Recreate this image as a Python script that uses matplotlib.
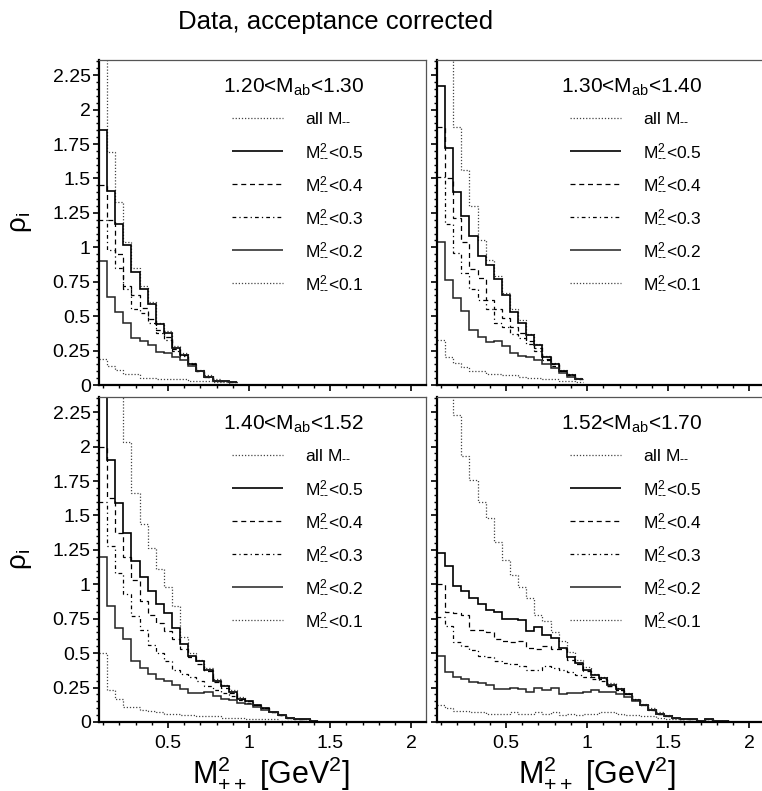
import numpy as np
import matplotlib
matplotlib.use('Agg')
import matplotlib.pyplot as plt
from matplotlib.ticker import MultipleLocator, FuncFormatter

plt.rcParams['font.family'] = ['Liberation Sans', 'DejaVu Sans']
plt.rcParams['mathtext.fontset'] = 'custom'
plt.rcParams['mathtext.rm'] = 'Liberation Sans'
plt.rcParams['mathtext.it'] = 'Liberation Sans'
plt.rcParams['mathtext.default'] = 'regular'

# histogram bins: 0.05 GeV^2 wide, starting at 0.075
bin_lo = 0.075
bin_w = 0.05

hy = '\u2010\u2010'
panel_titles = ['1.20<M$_{ab}$<1.30', '1.30<M$_{ab}$<1.40',
                '1.40<M$_{ab}$<1.52', '1.52<M$_{ab}$<1.70']
series_labels = ['all M$_{%s}$' % hy, 'M$_{%s}^{2}$<0.5' % hy, 'M$_{%s}^{2}$<0.4' % hy,
                 'M$_{%s}^{2}$<0.3' % hy, 'M$_{%s}^{2}$<0.2' % hy, 'M$_{%s}^{2}$<0.1' % hy]

# 1.20 < Mab < 1.30
p1_all  = [2.60, 1.69, 1.33, 1.04, 0.85, 0.72, 0.60, 0.45, 0.39, 0.28, 0.23, 0.16, 0.11, 0.07, 0.04, 0.03, 0.02]
p1_m05  = [1.85, 1.41, 1.17, 1.02, 0.82, 0.70, 0.59, 0.44, 0.38, 0.27, 0.22, 0.15, 0.10, 0.06, 0.03, 0.03, 0.02]
p1_m04  = [1.45, 1.20, 0.95, 0.72, 0.65, 0.56, 0.48, 0.40, 0.35, 0.26, 0.22, 0.15, 0.10, 0.06, 0.03, 0.03, 0.02]
p1_m03  = [1.20, 0.98, 0.85, 0.70, 0.55, 0.52, 0.45, 0.38, 0.33, 0.25, 0.21, 0.15, 0.10, 0.06, 0.03, 0.03, 0.02]
p1_m02  = [0.90, 0.64, 0.53, 0.45, 0.34, 0.32, 0.29, 0.24, 0.23, 0.20, 0.18, 0.14, 0.10, 0.06, 0.03, 0.03, 0.02]
p1_m01  = [0.19, 0.14, 0.11, 0.08, 0.08, 0.05, 0.05, 0.04, 0.04, 0.04, 0.04, 0.03, 0.03, 0.03, 0.02, 0.02, 0.01]

# 1.30 < Mab < 1.40
p2_all  = [2.80, 2.60, 1.87, 1.56, 1.30, 1.05, 0.91, 0.79, 0.67, 0.55, 0.47, 0.37, 0.30, 0.21, 0.16, 0.11, 0.08, 0.05]
p2_m05  = [2.17, 1.72, 1.40, 1.23, 1.08, 0.94, 0.87, 0.77, 0.65, 0.53, 0.45, 0.36, 0.29, 0.20, 0.15, 0.10, 0.07, 0.04]
p2_m04  = [1.87, 1.50, 1.21, 1.04, 0.84, 0.78, 0.62, 0.55, 0.49, 0.42, 0.38, 0.32, 0.27, 0.19, 0.15, 0.10, 0.07, 0.04]
p2_m03  = [1.51, 1.17, 0.96, 0.81, 0.70, 0.62, 0.55, 0.45, 0.42, 0.37, 0.34, 0.30, 0.25, 0.18, 0.14, 0.10, 0.07, 0.04]
p2_m02  = [1.04, 0.76, 0.63, 0.54, 0.40, 0.35, 0.31, 0.32, 0.28, 0.23, 0.21, 0.20, 0.18, 0.15, 0.12, 0.09, 0.06, 0.04]
p2_m01  = [0.33, 0.20, 0.16, 0.13, 0.10, 0.10, 0.08, 0.08, 0.07, 0.07, 0.06, 0.05, 0.05, 0.04, 0.04, 0.03, 0.03, 0.02]

# 1.40 < Mab < 1.52
p3_all  = [3.00, 2.80, 2.60, 2.03, 1.66, 1.44, 1.26, 1.11, 0.98, 0.84, 0.62, 0.50, 0.45, 0.39, 0.31, 0.27, 0.23, 0.18, 0.15, 0.12, 0.10, 0.07, 0.05, 0.03, 0.02, 0.02, 0.01]
p3_m05  = [2.60, 1.90, 1.59, 1.37, 1.17, 1.05, 0.95, 0.86, 0.79, 0.68, 0.57, 0.48, 0.44, 0.38, 0.30, 0.26, 0.22, 0.17, 0.15, 0.12, 0.10, 0.07, 0.05, 0.03, 0.02, 0.02, 0.01]
p3_m04  = [2.00, 1.63, 1.37, 1.20, 1.03, 0.88, 0.78, 0.72, 0.66, 0.60, 0.53, 0.47, 0.42, 0.37, 0.29, 0.25, 0.21, 0.17, 0.15, 0.12, 0.10, 0.07, 0.05, 0.03, 0.02, 0.02, 0.01]
p3_m03  = [1.60, 1.28, 1.08, 0.93, 0.77, 0.67, 0.56, 0.50, 0.44, 0.38, 0.35, 0.33, 0.30, 0.26, 0.23, 0.21, 0.19, 0.16, 0.14, 0.12, 0.10, 0.07, 0.05, 0.03, 0.02, 0.02, 0.01]
p3_m02  = [1.20, 0.84, 0.68, 0.60, 0.44, 0.39, 0.35, 0.31, 0.30, 0.27, 0.24, 0.21, 0.21, 0.22, 0.19, 0.17, 0.16, 0.14, 0.13, 0.11, 0.09, 0.07, 0.05, 0.03, 0.02, 0.02, 0.01]
p3_m01  = [0.50, 0.23, 0.17, 0.11, 0.11, 0.09, 0.08, 0.07, 0.06, 0.06, 0.05, 0.05, 0.04, 0.04, 0.04, 0.03, 0.03, 0.03, 0.02, 0.02, 0.02, 0.02, 0.01, 0.01, 0.01, 0.01, 0.01]

# 1.52 < Mab < 1.70
p4_all  = [3.00, 2.70, 2.23, 1.93, 1.76, 1.60, 1.48, 1.31, 1.18, 1.07, 0.98, 0.90, 0.78, 0.73, 0.65, 0.59, 0.51, 0.45, 0.40, 0.35, 0.33, 0.28, 0.25, 0.21, 0.17, 0.13, 0.10, 0.07, 0.05, 0.03, 0.02, 0.02, 0.01, 0.02, 0.01, 0.01]
p4_m05  = [1.23, 1.13, 0.99, 0.95, 0.90, 0.86, 0.81, 0.80, 0.75, 0.75, 0.74, 0.66, 0.69, 0.63, 0.61, 0.54, 0.47, 0.43, 0.38, 0.34, 0.32, 0.27, 0.24, 0.20, 0.16, 0.12, 0.09, 0.06, 0.04, 0.03, 0.02, 0.02, 0.01, 0.02, 0.01, 0.01]
p4_m04  = [1.00, 0.80, 0.79, 0.78, 0.67, 0.67, 0.65, 0.60, 0.59, 0.58, 0.59, 0.54, 0.53, 0.55, 0.53, 0.53, 0.45, 0.42, 0.37, 0.33, 0.31, 0.26, 0.23, 0.20, 0.16, 0.12, 0.09, 0.06, 0.04, 0.03, 0.02, 0.02, 0.01, 0.02, 0.01, 0.01]
p4_m03  = [0.76, 0.70, 0.58, 0.55, 0.52, 0.48, 0.47, 0.44, 0.43, 0.42, 0.41, 0.38, 0.38, 0.41, 0.39, 0.38, 0.36, 0.34, 0.33, 0.31, 0.30, 0.26, 0.23, 0.20, 0.16, 0.12, 0.09, 0.06, 0.04, 0.03, 0.02, 0.02, 0.01, 0.02, 0.01, 0.01]
p4_m02  = [0.48, 0.36, 0.33, 0.31, 0.29, 0.28, 0.27, 0.24, 0.24, 0.25, 0.24, 0.22, 0.25, 0.23, 0.25, 0.20, 0.21, 0.21, 0.22, 0.23, 0.22, 0.22, 0.20, 0.18, 0.15, 0.12, 0.09, 0.06, 0.04, 0.03, 0.02, 0.02, 0.01, 0.02, 0.01, 0.01]
p4_m01  = [0.12, 0.10, 0.08, 0.08, 0.07, 0.07, 0.06, 0.06, 0.06, 0.07, 0.06, 0.06, 0.07, 0.06, 0.07, 0.05, 0.06, 0.05, 0.06, 0.06, 0.07, 0.07, 0.06, 0.05, 0.05, 0.04, 0.04, 0.03, 0.02, 0.02, 0.01, 0.01, 0.01, 0.01, 0.01, 0.01]

panels = [
    [p1_all, p1_m05, p1_m04, p1_m03, p1_m02, p1_m01],
    [p2_all, p2_m05, p2_m04, p2_m03, p2_m02, p2_m01],
    [p3_all, p3_m05, p3_m04, p3_m03, p3_m02, p3_m01],
    [p4_all, p4_m05, p4_m04, p4_m03, p4_m02, p4_m01],
]

styles = [
    dict(color='#444444', lw=0.9, ls=(0, (1, 1.5))),
    dict(color='black', lw=1.2, ls='-'),
    dict(color='black', lw=0.9, ls=(0, (4, 3))),
    dict(color='black', lw=0.9, ls=(0, (3, 2.5, 1, 2.5))),
    dict(color='#222222', lw=1.1, ls='-'),
    dict(color='#444444', lw=0.9, ls=(0, (1, 1.5))),
]

fig = plt.figure(figsize=(7.62, 7.91), dpi=100)
W, H = 762, 791
boxes = [(99, 60), (437, 60), (99, 397), (437, 397)]
aw, ah = 327, 325

fmt = FuncFormatter(lambda v, p: '%g' % v)

for i, (x0, y0) in enumerate(boxes):
    ax = fig.add_axes([x0 / W, 1 - (y0 + ah) / H, aw / W, ah / H])
    for vals, st in zip(panels[i], styles):
        edges = bin_lo + bin_w * np.arange(len(vals) + 1)
        ax.stairs(vals, edges, baseline=None, **st)
    ax.set_xlim(0.075, 2.09)
    ax.set_ylim(0, 2.36)
    ax.yaxis.set_major_locator(MultipleLocator(0.25))
    ax.yaxis.set_minor_locator(MultipleLocator(0.05))
    ax.xaxis.set_major_locator(MultipleLocator(0.5))
    ax.xaxis.set_minor_locator(MultipleLocator(0.1))
    ax.xaxis.set_major_formatter(fmt)
    ax.yaxis.set_major_formatter(fmt)
    ax.tick_params(which='major', direction='out', length=4, width=1.2, labelsize=14, pad=2)
    ax.tick_params(axis='x', which='major', pad=5)
    ax.tick_params(which='minor', direction='out', length=2.2, width=1.0)
    ax.tick_params(top=False, right=False)
    for s in ['left', 'bottom']:
        ax.spines[s].set_linewidth(1.6)
    for s in ['top', 'right']:
        ax.spines[s].set_linewidth(0.9)
        ax.spines[s].set_color('#555555')
    if i % 2 == 1:
        ax.tick_params(labelleft=False)
    else:
        ax.set_ylabel(r'$\rho_{i}$', fontsize=20)
        ax.yaxis.set_label_coords(-0.2, 0.5)
    if i < 2:
        ax.tick_params(labelbottom=False)
    else:
        ax.set_xlabel('M$_{++}^{2}$ [GeV$^{2}$]', fontsize=22)
        ax.xaxis.set_label_coords(0.526 if i == 2 else 0.49, -0.098)

    # legend block
    ax.text(0.38, 0.917, panel_titles[i], transform=ax.transAxes,
            fontsize=15, ha='left', va='center')
    for k, (lab, st) in enumerate(zip(series_labels, styles)):
        yy = 0.822 - 0.1015 * k
        ax.plot([0.407, 0.563], [yy, yy], transform=ax.transAxes,
                solid_capstyle='butt', **st)
        ax.text(0.630, yy, lab, transform=ax.transAxes,
                fontsize=12.5, ha='left', va='center')

fig.text(0.44, 1 - 22 / H, 'Data, acceptance corrected', fontsize=18.5,
         ha='center', va='center')

plt.savefig('out.png', dpi=100)
